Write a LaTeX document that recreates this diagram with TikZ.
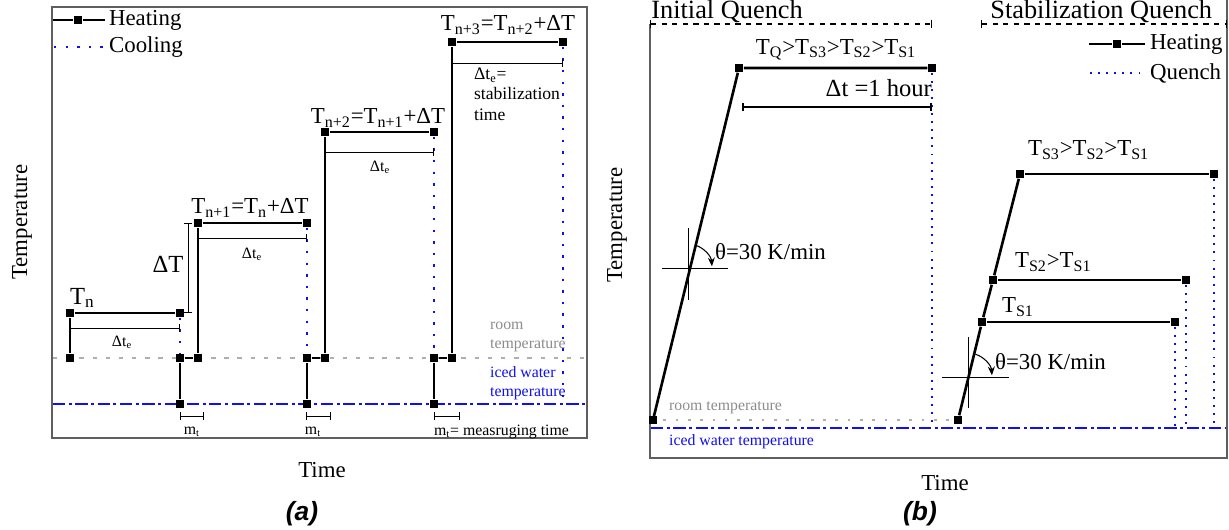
\documentclass[tikz,border=0pt]{standalone}
\usepackage{fontspec}
\setmainfont{Liberation Serif}
\newfontfamily\capfont{Liberation Sans}
\usetikzlibrary{arrows.meta,positioning}
\definecolor{coolBlue}{RGB}{15,15,240}
\definecolor{roomGrey}{RGB}{175,175,175}
\definecolor{roomInk}{RGB}{140,140,140}
\definecolor{panelGrey}{RGB}{95,95,95}
\newcommand{\Ts}[1]{T\textsubscript{#1}}
\tikzset{
  sq/.style={draw=none, fill=black, inner sep=0pt, minimum size=5pt},
  sqs/.style={sq, minimum size=4pt},
  heat/.style={line width=1.5pt, draw=black},
  cool/.style={line width=1.5pt, draw=coolBlue, dash pattern=on 1.4pt off 5.2pt},
  quench/.style={line width=1.1pt, draw=coolBlue, dash pattern=on 1.1pt off 3.5pt},
  roomline/.style={line width=1.2pt, draw=roomGrey, dash pattern=on 2.5pt off 5pt},
  iceline/.style={line width=1.7pt, draw=coolBlue, dash pattern=on 7pt off 2pt on 1.7pt off 2pt},
  dim/.style={line width=0.5pt, {Bar[width=4pt]}-{Bar[width=4pt]}},
  bracket/.style={line width=0.8pt, dashed, {Bar[width=5pt]}-{Bar[width=5pt]}},
  panel/.style={line width=0.8pt, draw=panelGrey},
  lab/.style={font=\fontsize{13}{15}\selectfont, inner sep=1pt},
  biglab/.style={font=\fontsize{14}{16}\selectfont, inner sep=1pt},
  head/.style={font=\fontsize{15}{18}\selectfont, inner sep=0pt},
  note/.style={font=\fontsize{9}{10.5}\selectfont, inner sep=1pt, align=left},
  figcap/.style={font=\capfont\bfseries\itshape\fontsize{15}{17}\selectfont}
}

\begin{document}
\begin{tikzpicture}[x=0.02cm, y=-0.02cm]
    \useasboundingbox (0,0) rectangle (1229,530);
    % (a) stepwise heating
    \draw[panel] (52,7) rectangle (587,438);
    \node[sq] (lhs) at (78,20) {};
    \coordinate (lh1) at (53,20);
    \coordinate (lh2) at (105,20);
    \draw[heat] (lh1) -- (lhs) -- (lh2);
    \node[lab, anchor=west] (lht) at (107,20) {Heating};
    \coordinate (lc1) at (54,47);
    \coordinate (lc2) at (103,47);
    \draw[cool] (lc1) -- (lc2);
    \node[lab, anchor=west] (lct) at (107,47) {Cooling};

    \coordinate (ra1) at (53,358);
    \coordinate (ra2) at (586,358);
    \draw[roomline] (ra1) -- (ra2);
    \coordinate (ia1) at (53,404);
    \coordinate (ia2) at (586,404);
    \draw[iceline] (ia1) -- (ia2);

    \node[sq] (a0) at (70,358) {};
    \node[sq] (a1) at (70,313) {};
    \node[sq] (a2) at (180,313) {};
    \node[sq] (a3) at (180,358) {};
    \node[sq] (a4) at (180,404) {};
    \node[sq] (b0) at (198,358) {};
    \node[sq] (b1) at (198,223) {};
    \node[sq] (b2) at (307,223) {};
    \node[sq] (b3) at (307,358) {};
    \node[sq] (b4) at (307,404) {};
    \node[sq] (c0) at (325,358) {};
    \node[sq] (c1) at (325,132) {};
    \node[sq] (c2) at (434,132) {};
    \node[sq] (c3) at (434,358) {};
    \node[sq] (c4) at (434,404) {};
    \node[sq] (d0) at (452,358) {};
    \node[sq] (d1) at (452,42) {};
    \node[sq] (d2) at (563,42) {};
    \coordinate (d3) at (563,400);

    \draw[heat] (a0) -- (a1) -- (a2);
    \draw[cool] (a2) -- (a3);
    \draw[heat] (a3) -- (a4);
    \draw[line width=1pt] (a3) -- (b0);
    \draw[heat] (b0) -- (b1) -- (b2);
    \draw[cool] (b2) -- (b3);
    \draw[heat] (b3) -- (b4);
    \draw[line width=1pt] (b3) -- (c0);
    \draw[heat] (c0) -- (c1) -- (c2);
    \draw[cool] (c2) -- (c3);
    \draw[heat] (c3) -- (c4);
    \draw[line width=1pt] (c3) -- (d0);
    \draw[heat] (d0) -- (d1) -- (d2);
    \draw[cool] (d2) -- (d3);

    \node[biglab, anchor=base west] (tn) at (68,304) {\Ts{n}};
    \node[lab] (tn1) at (250,208) {\Ts{n+1}=\Ts{n}+ΔT};
    \node[lab] (tn2) at (378,118) {\Ts{n+2}=\Ts{n+1}+ΔT};
    \node[lab] (tn3) at (508,25) {\Ts{n+3}=\Ts{n+2}+ΔT};

    \coordinate (ea1) at (70,328);
    \coordinate (ea2) at (180,328);
    \draw[dim] (ea1) -- (ea2);
    \node[note] (eat) at (122,342) {Δt\textsubscript{e}};
    \coordinate (eb1) at (198,238);
    \coordinate (eb2) at (307,238);
    \draw[dim] (eb1) -- (eb2);
    \node[note] (ebt) at (252,254) {Δt\textsubscript{e}};
    \coordinate (ec1) at (325,152);
    \coordinate (ec2) at (434,152);
    \draw[dim] (ec1) -- (ec2);
    \node[note] (ect) at (380,167) {Δt\textsubscript{e}};
    \coordinate (ed1) at (452,63);
    \coordinate (ed2) at (563,63);
    \draw[dim] (ed1) -- (ed2);
    \node[note, font=\fontsize{10}{11.5}\selectfont, anchor=north west] (edt) at (472,66) {Δt\textsubscript{e}=\\stabilization\\time};

    \coordinate (dt1) at (188,223);
    \coordinate (dt2) at (188,313);
    \draw[dim] (dt1) -- (dt2);
    \node[biglab] (dtt) at (168,264) {ΔT};

    \coordinate (ma1) at (180,416);
    \coordinate (ma2) at (204,416);
    \draw[dim] (ma1) -- (ma2);
    \node[note] (mat) at (192,432) {m\textsubscript{t}};
    \coordinate (mb1) at (306,416);
    \coordinate (mb2) at (331,416);
    \draw[dim] (mb1) -- (mb2);
    \node[note] (mbt) at (313,432) {m\textsubscript{t}};
    \coordinate (mc1) at (434,416);
    \coordinate (mc2) at (460,416);
    \draw[dim] (mc1) -- (mc2);
    \node[note, anchor=west] (mct) at (432,432) {m\textsubscript{t}= measruging time};

    \node[note, text=roomInk, anchor=west] (rat) at (488,337) {room\\temperature};
    \node[note, text=coolBlue, anchor=west] (iat) at (488,383) {iced water\\temperature};

    \node[lab, rotate=90] (tya) at (22,222) {Temperature};
    \node[lab] (txa) at (322,470) {Time};
    \node[figcap] (capa) at (302,514) {(a)};

    % (b) quench
    \draw[panel] (650,24) -- (650,458) -- (1227,458) -- (1227,0);
    \coordinate (iq1) at (650,24);
    \coordinate (iq2) at (932,24);
    \draw[bracket] (iq1) -- (iq2);
    \node[head, anchor=base west] (iqt) at (651,19) {Initial Quench};
    \coordinate (sq1) at (981,24);
    \coordinate (sq2) at (1227,24);
    \draw[bracket] (sq1) -- (sq2);
    \node[head, anchor=base west] (sqt) at (990,19) {Stabilization Quench};

    \node[sq] (lbs) at (1117,44) {};
    \coordinate (lb1) at (1089,44);
    \coordinate (lb2) at (1145,44);
    \draw[heat] (lb1) -- (lbs) -- (lb2);
    \node[lab, anchor=west] (lbt) at (1148,44) {Heating};
    \coordinate (lq1) at (1090,73);
    \coordinate (lq2) at (1141,73);
    \draw[quench] (lq1) -- (lq2);
    \node[lab, anchor=west] (lqt) at (1148,73) {Quench};

    \coordinate (rb1) at (651,420);
    \coordinate (rb2) at (955,420);
    \draw[roomline, dash pattern=on 1.5pt off 5.5pt] (rb1) -- (rb2);
    \coordinate (ib1) at (651,428);
    \coordinate (ib2) at (1225,428);
    \draw[iceline] (ib1) -- (ib2);
    \node[note, text=roomInk, anchor=west] (rbt) at (667,408) {room temperature};
    \node[note, text=coolBlue, anchor=west] (ibt) at (667,442) {iced water temperature};

    \node[sqs] (q0) at (653,420) {};
    \node[sq] (q1) at (739,68) {};
    \node[sq] (q2) at (932,68) {};
    \coordinate (q3) at (932,428);
    \draw[heat] (q0) -- (q1) -- (q2);
    \draw[quench] (q2) -- (q3);
    \node[lab] (tqt) at (836,50) {\Ts{Q}>\Ts{S3}>\Ts{S2}>\Ts{S1}};
    \coordinate (h1) at (742,107);
    \coordinate (h2) at (932,107);
    \draw[dim, line width=1pt] (h1) -- (h2);
    \node[biglab, anchor=south east] (ht) at (934,99) {Δt =1 hour};

    \coordinate (x1) at (688,268);
    \draw[line width=0.5pt] (x1) +(-26,0) -- +(40,0);
    \draw[line width=0.5pt] (x1) +(0,-40) -- +(0,32);
    \draw[line width=0.6pt, -{Stealth[length=5pt, width=4pt]}] (x1) ++(72:0.48cm) arc[start angle=72, end angle=4, radius=0.48cm];
    \node[lab, anchor=west] (x1t) at (713,252) {θ=30 K/min};

    \node[sq] (s0) at (958,420) {};
    \node[sq] (s1) at (982,322) {};
    \node[sq] (s2) at (993,280) {};
    \node[sq] (s3) at (1020,174) {};
    \node[sq] (s1r) at (1175,322) {};
    \node[sq] (s2r) at (1186,280) {};
    \node[sq] (s3r) at (1214,174) {};
    \coordinate (s1d) at (1175,428);
    \coordinate (s2d) at (1186,428);
    \coordinate (s3d) at (1214,428);
    \draw[heat] (s0) -- (s1) -- (s2) -- (s3);
    \draw[heat] (s1) -- (s1r);
    \draw[heat] (s2) -- (s2r);
    \draw[heat] (s3) -- (s3r);
    \draw[quench] (s1r) -- (s1d);
    \draw[quench] (s2r) -- (s2d);
    \draw[quench] (s3r) -- (s3d);
    \node[lab, anchor=west] (s3t) at (1026,150) {\Ts{S3}>\Ts{S2}>\Ts{S1}};
    \node[lab, anchor=west] (s2t) at (1013,262) {\Ts{S2}>\Ts{S1}};
    \node[lab, anchor=west] (s1t) at (1000,307) {\Ts{S1}};

    \coordinate (x2) at (968,377);
    \draw[line width=0.5pt] (x2) +(-26,0) -- +(41,0);
    \draw[line width=0.5pt] (x2) +(0,-40) -- +(0,31);
    \draw[line width=0.6pt, -{Stealth[length=5pt, width=4pt]}] (x2) ++(72:0.48cm) arc[start angle=72, end angle=4, radius=0.48cm];
    \node[lab, anchor=west] (x2t) at (993,362) {θ=30 K/min};

    \node[lab, rotate=90] (tyb) at (617,225) {Temperature};
    \node[lab] (txb) at (945,483) {Time};
    \node[figcap] (capb) at (920,514) {(b)};
\end{tikzpicture}
\end{document}
